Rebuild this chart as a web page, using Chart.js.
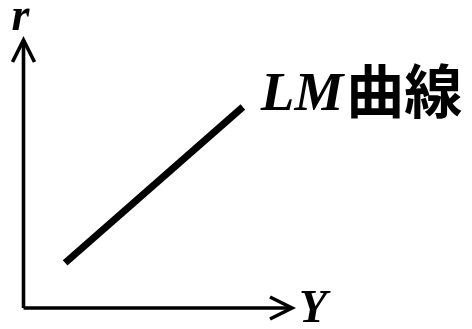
<!DOCTYPE html>
<html><head><meta charset="utf-8">
<script src="https://cdn.jsdelivr.net/npm/chart.js@4"></script>
<style>html,body{margin:0;padding:0;background:#fff;overflow:hidden}</style>
</head><body>
<canvas id="c" width="472" height="329"></canvas>
<script>
// ---- data ----
const axisRangeY = [0, 100];   // horizontal axis: income Y
const axisRangeR = [0, 100];   // vertical axis: interest rate r
const lmIncome = [15.5, 81.7]; // LM curve, Y values
const lmRate   = [16.8, 75.0]; // LM curve, r values
const xLabel = 'Y';
const yLabel = 'r';
const curveLatin = 'LM';
const curveCJK = '曲線';

const lmPoints = lmIncome.map((v, i) => ({x: v, y: lmRate[i]}));
const xAxisPoints = axisRangeY.map(v => ({x: v, y: axisRangeR[0]}));
const yAxisPoints = axisRangeR.map(v => ({x: axisRangeY[0], y: v}));

const arrowPlugin = {
  id: 'arrowsAndLabels',
  afterDatasetsDraw(chart) {
    const ctx = chart.ctx;
    const xs = chart.scales.x, ys = chart.scales.y;
    const ox = xs.getPixelForValue(axisRangeY[0]);
    const oy = ys.getPixelForValue(axisRangeR[0]);
    const tx = xs.getPixelForValue(axisRangeY[1]);
    const ty = ys.getPixelForValue(axisRangeR[1]);
    ctx.save();
    ctx.strokeStyle = '#000';
    ctx.fillStyle = '#000';
    ctx.lineWidth = 3.6;
    ctx.lineJoin = 'miter';
    ctx.lineCap = 'butt';
    // arrowhead on vertical axis
    ctx.beginPath();
    ctx.moveTo(ox - 11, ty + 22);
    ctx.lineTo(ox, ty);
    ctx.lineTo(ox + 11, ty + 22);
    ctx.stroke();
    // arrowhead on horizontal axis
    ctx.beginPath();
    ctx.moveTo(tx - 22, oy - 11);
    ctx.lineTo(tx, oy);
    ctx.lineTo(tx - 22, oy + 11);
    ctx.stroke();
    // axis labels
    ctx.font = 'bold italic 46px "Liberation Serif"';
    ctx.textAlign = 'center';
    ctx.textBaseline = 'alphabetic';
    ctx.fillText(yLabel, ox - 3, ty - 10);
    ctx.textAlign = 'left';
    ctx.fillText(xLabel, tx + 7, oy + 14);
    // curve label
    const ex = xs.getPixelForValue(lmIncome[1]);
    const ey = ys.getPixelForValue(lmRate[1]);
    ctx.font = 'bold italic 55px "Liberation Serif"';
    const lx = ex + 18, ly = ey + 3;
    ctx.fillText(curveLatin, lx, ly);
    const w = ctx.measureText(curveLatin).width;
    ctx.font = 'bold 58px "Noto Sans CJK JP"';
    ctx.fillText(curveCJK, lx + w + 3, ly + 3);
    ctx.restore();
  }
};

new Chart(document.getElementById('c'), {
  type: 'scatter',
  data: {
    datasets: [
      {data: xAxisPoints, showLine: true, borderColor: '#000', borderWidth: 3.6, pointRadius: 0, clip: false, borderCapStyle: 'butt'},
      {data: yAxisPoints, showLine: true, borderColor: '#000', borderWidth: 3.6, pointRadius: 0, clip: false, borderCapStyle: 'butt'},
      {data: lmPoints, showLine: true, borderColor: '#000', borderWidth: 7, pointRadius: 0, clip: false, borderCapStyle: 'butt'}
    ]
  },
  options: {
    responsive: false,
    animation: false,
    devicePixelRatio: 1,
    layout: {padding: {left: 23.5, right: 180, top: 40, bottom: 21}},
    plugins: {legend: {display: false}, tooltip: {enabled: false}},
    scales: {
      x: {type: 'linear', min: axisRangeY[0], max: axisRangeY[1], display: false},
      y: {type: 'linear', min: axisRangeR[0], max: axisRangeR[1], display: false}
    }
  },
  plugins: [arrowPlugin]
});
</script>
</body></html>
